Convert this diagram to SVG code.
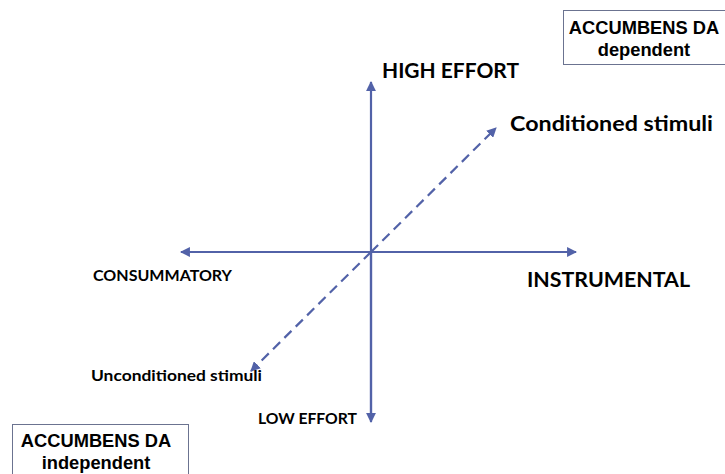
<svg xmlns="http://www.w3.org/2000/svg" width="725" height="474" viewBox="0 0 725 474">
<style>
.lbl{font-family:Lato,"Open Sans",sans-serif;font-weight:bold;fill:#000}
.box{fill:#fff;stroke:#6b7390;stroke-width:1}
.boxt{font-family:"Liberation Sans",Arial,sans-serif;font-weight:bold;font-size:18.3px;fill:#000;text-anchor:middle}
.ax{stroke:#5262a8;stroke-width:2.2;fill:none}
</style>
<defs>
<marker id="ah" viewBox="0 0 10 10" refX="9" refY="5" markerWidth="4.5" markerHeight="4.5" orient="auto" markerUnits="strokeWidth">
<path d="M0,0 L10,5 L0,10 Z" fill="#5262a8"/>
</marker>
</defs>
<rect width="725" height="474" fill="#fff"/>
<g id="connectors">
<line class="ax" x1="371" y1="414" x2="371" y2="82" marker-end="url(#ah)"/>
<line class="ax" x1="371" y1="252" x2="371" y2="422" marker-end="url(#ah)"/>
<line class="ax" x1="371" y1="252" x2="181" y2="252" marker-end="url(#ah)"/>
<line class="ax" x1="371" y1="252" x2="576" y2="252" marker-end="url(#ah)"/>
<line class="ax" x1="371" y1="252" x2="496" y2="128" stroke-dasharray="10,6" stroke-width="2.5" marker-end="url(#ah)"/>
<line class="ax" x1="371" y1="252" x2="251" y2="371" stroke-dasharray="10,6" stroke-width="2.5" marker-end="url(#ah)"/>
</g>
<g id="dependent">
<rect class="box" x="563.5" y="10.5" width="165" height="54"/>
<text class="boxt" x="644" y="34">ACCUMBENS DA</text>
<text class="boxt" x="644" y="56">dependent</text>
</g>
<g id="independent">
<rect class="box" x="12.5" y="424.5" width="176" height="55"/>
<text class="boxt" x="96" y="447">ACCUMBENS DA</text>
<text class="boxt" x="96" y="469">independent</text>
</g>
<g id="high-effort"><text class="lbl" x="382" y="78" font-size="20.5" textLength="137" lengthAdjust="spacingAndGlyphs">HIGH EFFORT</text></g>
<g id="conditioned"><text class="lbl" x="510" y="131" font-size="21.5" textLength="203" lengthAdjust="spacingAndGlyphs">Conditioned stimuli</text></g>
<g id="consummatory"><text class="lbl" x="93" y="281" font-size="15" textLength="139" lengthAdjust="spacingAndGlyphs">CONSUMMATORY</text></g>
<g id="instrumental"><text class="lbl" x="527" y="287" font-size="21.5" textLength="163" lengthAdjust="spacingAndGlyphs">INSTRUMENTAL</text></g>
<g id="unconditioned"><text class="lbl" x="91" y="381" font-size="15.5" textLength="171" lengthAdjust="spacingAndGlyphs">Unconditioned stimuli</text></g>
<g id="low-effort"><text class="lbl" x="258" y="424" font-size="15" textLength="99" lengthAdjust="spacingAndGlyphs">LOW EFFORT</text></g>
</svg>
